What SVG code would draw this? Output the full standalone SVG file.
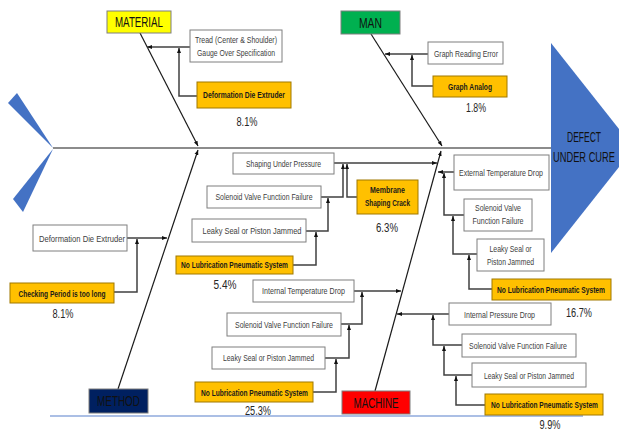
<svg xmlns="http://www.w3.org/2000/svg" width="619" height="430" viewBox="0 0 619 430">
<style>
.wb{fill:#fff;stroke:#7f7f7f;stroke-width:1}
.ob{fill:#FFC000;stroke:#a07800;stroke-width:1}
.t{font-family:"Liberation Sans",Arial,sans-serif;font-size:9px;fill:#404040;text-anchor:middle}
.tb{font-family:"Liberation Sans",Arial,sans-serif;font-size:9px;font-weight:bold;fill:#1a1a1a;text-anchor:middle}
.pc{font-family:"Liberation Sans",Arial,sans-serif;font-size:12.5px;fill:#262626;text-anchor:middle}
.cat{font-family:"Liberation Sans",Arial,sans-serif;font-size:14px;fill:#111;text-anchor:middle}
.bone{fill:none;stroke:#1a1a1a;stroke-width:1.2}
.c{fill:none;stroke:#404040;stroke-width:1.5}
.blue{fill:#4472C4}
</style>
<defs>
<marker id="ah" viewBox="0 0 10 10" refX="10" refY="5" markerWidth="5" markerHeight="5" markerUnits="userSpaceOnUse" orient="auto"><path d="M0,1 L10,5 L0,9 z" fill="#111"/></marker>
</defs>
<rect width="619" height="430" fill="#fff"/>

<g id="fish">
<polygon class="blue" points="8,103 17,93 53,148"/>
<polygon class="blue" points="53,149 13,199 23,212"/>
<polygon class="blue" points="551,43 634,148 551,253"/>
<line x1="50" y1="416" x2="583" y2="416" stroke="#8FAADC" stroke-width="1.5"/>
</g>

<g id="connectors">
<line class="bone" x1="53" y1="148" x2="551" y2="148" stroke-width="1.6"/>
<line class="bone" x1="140" y1="33" x2="198" y2="146" marker-end="url(#ah)"/>
<line class="bone" x1="118" y1="389" x2="198" y2="150" marker-end="url(#ah)"/>
<line class="bone" x1="371" y1="34" x2="442" y2="146" marker-end="url(#ah)"/>
<line class="bone" x1="375" y1="391" x2="441" y2="151" marker-end="url(#ah)"/>
<line class="c" x1="190" y1="47" x2="147" y2="47" marker-end="url(#ah)"/>
<polyline class="c" points="197,96 179,96 179,48" marker-end="url(#ah)"/>
<line class="c" x1="428" y1="54" x2="385" y2="54" marker-end="url(#ah)"/>
<polyline class="c" points="433,86 412,86 412,55" marker-end="url(#ah)"/>
<line class="c" x1="127" y1="238" x2="167" y2="238" marker-end="url(#ah)"/>
<polyline class="c" points="114,292 137,292 137,239" marker-end="url(#ah)"/>
<line class="c" x1="334" y1="163" x2="437" y2="163" marker-end="url(#ah)"/>
<polyline class="c" points="321,197 343,197 343,164" marker-end="url(#ah)"/>
<polyline class="c" points="306,231 328,231 328,198" marker-end="url(#ah)"/>
<polyline class="c" points="293,265 316,265 316,232" marker-end="url(#ah)"/>
<polyline class="c" points="357,197 347,197 347,164" marker-end="url(#ah)"/>
<line class="c" x1="454" y1="172" x2="438" y2="172" marker-end="url(#ah)"/>
<polyline class="c" points="464,215 444,215 444,173" marker-end="url(#ah)"/>
<polyline class="c" points="477,254 453,254 453,216" marker-end="url(#ah)"/>
<polyline class="c" points="492,289 469,289 469,255" marker-end="url(#ah)"/>
<line class="c" x1="449" y1="314" x2="397" y2="314" marker-end="url(#ah)"/>
<polyline class="c" points="462,345 433,345 433,315" marker-end="url(#ah)"/>
<polyline class="c" points="472,375 444,375 444,346" marker-end="url(#ah)"/>
<polyline class="c" points="485,405 456,405 456,376" marker-end="url(#ah)"/>
<line class="c" x1="354" y1="291" x2="401" y2="291" marker-end="url(#ah)"/>
<polyline class="c" points="341,324 362,324 362,292" marker-end="url(#ah)"/>
<polyline class="c" points="325,358 349,358 349,325" marker-end="url(#ah)"/>
<polyline class="c" points="313,392 336,392 336,359" marker-end="url(#ah)"/>
</g>

<g id="effect">
<text class="cat" transform="translate(584,142) scale(0.7,1)" x="0" y="0" font-size="13" fill="#13203f" textLength="48.6" lengthAdjust="spacingAndGlyphs">DEFECT</text>
<text class="cat" transform="translate(584,162) scale(0.7,1)" x="0" y="0" font-size="13" fill="#13203f" textLength="88.6" lengthAdjust="spacingAndGlyphs">UNDER CURE</text>
</g>

<g id="material">
<rect x="107" y="11" width="64" height="22" fill="#FFFF00" stroke="#7f7f7f"/>
<text class="cat" x="139" y="27" textLength="48" lengthAdjust="spacingAndGlyphs">MATERIAL</text>
</g>
<g id="man">
<rect x="341" y="11" width="59" height="23" fill="#00B050" stroke="#7f7f7f"/>
<text class="cat" x="370.5" y="27.5" textLength="23" lengthAdjust="spacingAndGlyphs">MAN</text>
</g>
<g id="method">
<rect x="89" y="389" width="59" height="24" fill="#002060" stroke="#7f7f7f"/>
<text class="cat" x="118.5" y="406" fill="#0a0a1a" textLength="43" lengthAdjust="spacingAndGlyphs">METHOD</text>
</g>
<g id="machine">
<rect x="342" y="391" width="68" height="23" fill="#FF0000" stroke="#7f7f7f"/>
<text class="cat" x="376" y="408" textLength="45" lengthAdjust="spacingAndGlyphs">MACHINE</text>
</g>

<g id="mat-tread">
<rect class="wb" x="190" y="30" width="92" height="32"/>
<text class="t" x="236" y="43" textLength="82" lengthAdjust="spacingAndGlyphs">Tread (Center &amp; Shoulder)</text>
<text class="t" x="236" y="56" textLength="78" lengthAdjust="spacingAndGlyphs">Gauge Over Specification</text>
</g>
<g id="mat-die">
<rect class="ob" x="197" y="82" width="94" height="26"/>
<text class="tb" x="244" y="98" textLength="82" lengthAdjust="spacingAndGlyphs">Deformation Die Extruder</text>
<text class="pc" x="247" y="126" textLength="21" lengthAdjust="spacingAndGlyphs">8.1%</text>
</g>

<g id="man-graph-error">
<rect class="wb" x="428" y="42" width="75" height="22"/>
<text class="t" x="466" y="57" textLength="64" lengthAdjust="spacingAndGlyphs">Graph Reading Error</text>
</g>
<g id="man-graph-analog">
<rect class="ob" x="433" y="76" width="74" height="21"/>
<text class="tb" x="470" y="90" textLength="44" lengthAdjust="spacingAndGlyphs">Graph Analog</text>
<text class="pc" x="476" y="112" textLength="20" lengthAdjust="spacingAndGlyphs">1.8%</text>
</g>

<g id="met-die">
<rect class="wb" x="33" y="225" width="94" height="26"/>
<text class="t" x="82" y="242" textLength="86" lengthAdjust="spacingAndGlyphs">Deformation Die Extruder</text>
</g>
<g id="met-check">
<rect class="ob" x="10" y="283" width="104" height="20"/>
<text class="tb" x="62" y="297" textLength="87" lengthAdjust="spacingAndGlyphs">Checking Period is too long</text>
<text class="pc" x="63" y="318" textLength="21" lengthAdjust="spacingAndGlyphs">8.1%</text>
</g>

<g id="c-shaping">
<rect class="wb" x="233" y="153" width="101" height="21"/>
<text class="t" x="283.5" y="167" textLength="75" lengthAdjust="spacingAndGlyphs">Shaping Under Pressure</text>
</g>
<g id="c-solenoid">
<rect class="wb" x="207" y="186" width="114" height="22"/>
<text class="t" x="264" y="200" textLength="97" lengthAdjust="spacingAndGlyphs">Solenoid Valve Function Failure</text>
</g>
<g id="c-leaky">
<rect class="wb" x="192" y="219" width="114" height="23"/>
<text class="t" x="252" y="234" textLength="99" lengthAdjust="spacingAndGlyphs">Leaky Seal or Piston Jammed</text>
</g>
<g id="c-nolub">
<rect class="ob" x="176" y="256" width="117" height="18"/>
<text class="tb" transform="translate(234.5,268) scale(0.72,1)" x="0" y="0" textLength="148.6" lengthAdjust="spacingAndGlyphs">No Lubrication Pneumatic System</text>
<text class="pc" x="225" y="289" textLength="23" lengthAdjust="spacingAndGlyphs">5.4%</text>
</g>
<g id="c-membrane">
<rect class="ob" x="357" y="180" width="61" height="34"/>
<text class="tb" x="387.5" y="193" textLength="35" lengthAdjust="spacingAndGlyphs">Membrane</text>
<text class="tb" x="387.5" y="206" textLength="45" lengthAdjust="spacingAndGlyphs">Shaping Crack</text>
<text class="pc" x="387" y="232" textLength="22" lengthAdjust="spacingAndGlyphs">6.3%</text>
</g>

<g id="ru-ext">
<rect class="wb" x="454" y="155" width="95" height="35"/>
<text class="t" x="501" y="176" textLength="84" lengthAdjust="spacingAndGlyphs">External Temperature Drop</text>
</g>
<g id="ru-solenoid">
<rect class="wb" x="464" y="199" width="68" height="32"/>
<text class="t" x="498" y="211" textLength="46" lengthAdjust="spacingAndGlyphs">Solenoid Valve</text>
<text class="t" x="498" y="224" textLength="51" lengthAdjust="spacingAndGlyphs">Function Failure</text>
</g>
<g id="ru-leaky">
<rect class="wb" x="477" y="239" width="67" height="32"/>
<text class="t" x="510.5" y="252" textLength="42" lengthAdjust="spacingAndGlyphs">Leaky Seal or</text>
<text class="t" x="510.5" y="265" textLength="47" lengthAdjust="spacingAndGlyphs">Piston Jammed</text>
</g>
<g id="ru-nolub">
<rect class="ob" x="492" y="279" width="119" height="21"/>
<text class="tb" transform="translate(551,293) scale(0.72,1)" x="0" y="0" textLength="150" lengthAdjust="spacingAndGlyphs">No Lubrication Pneumatic System</text>
<text class="pc" x="579" y="317" textLength="26" lengthAdjust="spacingAndGlyphs">16.7%</text>
</g>

<g id="rl-pressure">
<rect class="wb" x="449" y="303" width="102" height="22"/>
<text class="t" x="499.5" y="318" textLength="71" lengthAdjust="spacingAndGlyphs">Internal Pressure Drop</text>
</g>
<g id="rl-solenoid">
<rect class="wb" x="462" y="334" width="114" height="23"/>
<text class="t" x="518" y="349" textLength="98" lengthAdjust="spacingAndGlyphs">Solenoid Valve Function Failure</text>
</g>
<g id="rl-leaky">
<rect class="wb" x="472" y="363" width="114" height="24"/>
<text class="t" x="529" y="379" textLength="90" lengthAdjust="spacingAndGlyphs">Leaky Seal or Piston Jammed</text>
</g>
<g id="rl-nolub">
<rect class="ob" x="485" y="394" width="118" height="21"/>
<text class="tb" transform="translate(544.5,408) scale(0.72,1)" x="0" y="0" textLength="148.6" lengthAdjust="spacingAndGlyphs">No Lubrication Pneumatic System</text>
<text class="pc" x="550" y="428.5" textLength="21" lengthAdjust="spacingAndGlyphs">9.9%</text>
</g>

<g id="ll-temp">
<rect class="wb" x="253" y="280" width="101" height="22"/>
<text class="t" x="303.5" y="294" textLength="83" lengthAdjust="spacingAndGlyphs">Internal Temperature Drop</text>
</g>
<g id="ll-solenoid">
<rect class="wb" x="227" y="313" width="114" height="23"/>
<text class="t" x="284" y="328" textLength="98" lengthAdjust="spacingAndGlyphs">Solenoid Valve Function Failure</text>
</g>
<g id="ll-leaky">
<rect class="wb" x="212" y="347" width="113" height="22"/>
<text class="t" x="268.5" y="361" textLength="91" lengthAdjust="spacingAndGlyphs">Leaky Seal or Piston Jammed</text>
</g>
<g id="ll-nolub">
<rect class="ob" x="195" y="382" width="118" height="20"/>
<text class="tb" transform="translate(254.5,396) scale(0.72,1)" x="0" y="0" textLength="148.6" lengthAdjust="spacingAndGlyphs">No Lubrication Pneumatic System</text>
<text class="pc" x="258" y="415" textLength="26" lengthAdjust="spacingAndGlyphs">25.3%</text>
</g>
</svg>
